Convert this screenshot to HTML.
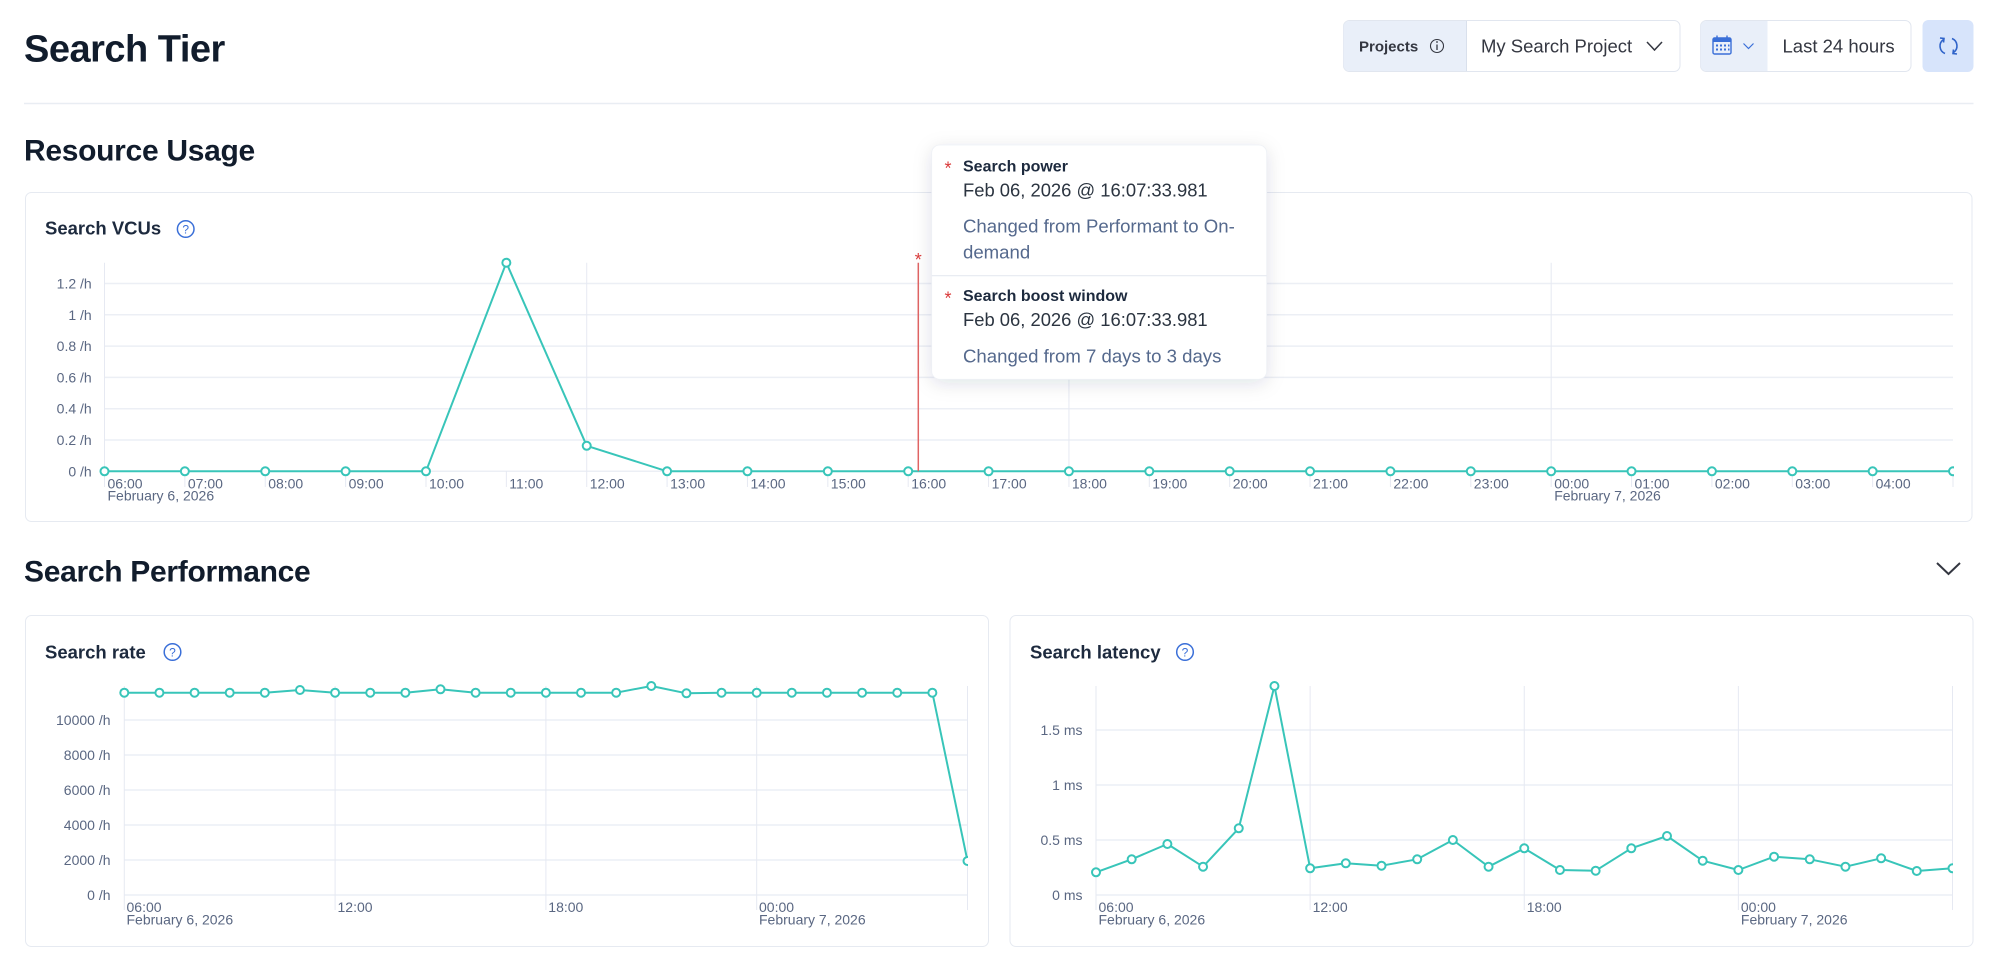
<!DOCTYPE html>
<html><head><meta charset="utf-8"><style>
html,body{margin:0;padding:0;background:#fff;width:1999px;height:961px;overflow:hidden}
svg{position:absolute;left:0;top:0}
</style></head><body>
<svg width="1999" height="961" viewBox="0 0 1999 961" font-family="Liberation Sans, Arial, sans-serif">
<defs>
<filter id="sh" x="-20%" y="-20%" width="140%" height="150%"><feDropShadow dx="0" dy="4" stdDeviation="9" flood-color="#1d2a3e" flood-opacity="0.13"/></filter>
<clipPath id="c1"><rect x="90" y="250" width="1864" height="240"/></clipPath>
<clipPath id="c2"><rect x="110" y="675" width="858" height="230"/></clipPath>
<clipPath id="c3"><rect x="1085" y="675" width="868" height="230"/></clipPath>
</defs>

<!-- Header -->
<text x="24" y="61.5" font-size="38" font-weight="700" fill="#111c2c" letter-spacing="-0.5">Search Tier</text>

<!-- Projects control -->
<rect x="1343.5" y="20.5" width="336.5" height="51" rx="6" fill="#fff" stroke="#e1e6ef"/>
<path d="M1466.5 21 H1349.5 a6 6 0 0 0 -6 6 V65 a6 6 0 0 0 6 6 H1466.5 Z" fill="#e9eff9"/>
<line x1="1466.5" y1="21" x2="1466.5" y2="71" stroke="#d9e0ec"/>
<text x="1359" y="51.5" font-size="15" font-weight="700" fill="#343741">Projects</text>
<circle cx="1437" cy="46" r="6.5" fill="none" stroke="#343741" stroke-width="1.1"/>
<line x1="1437" y1="44.5" x2="1437" y2="50" stroke="#343741" stroke-width="1.3"/>
<circle cx="1437" cy="42" r="0.9" fill="#343741"/>
<text x="1481" y="52.5" font-size="18.5" fill="#343741">My Search Project</text>
<polyline points="1647,42 1654.5,50 1662,42" fill="none" stroke="#343741" stroke-width="1.5"/>

<!-- Date control -->
<rect x="1700.5" y="20.5" width="210.5" height="51" rx="6" fill="#fff" stroke="#e1e6ef"/>
<path d="M1767.5 21 H1706.5 a6 6 0 0 0 -6 6 V65 a6 6 0 0 0 6 6 H1767.5 Z" fill="#e9eff9"/>
<rect x="1713" y="38" width="18" height="16" rx="1.5" fill="none" stroke="#3a6fd8" stroke-width="1.4"/>
<rect x="1713" y="38" width="18" height="4" fill="#3a6fd8"/>
<line x1="1717" y1="35.5" x2="1717" y2="39" stroke="#3a6fd8" stroke-width="1.4"/>
<line x1="1727" y1="35.5" x2="1727" y2="39" stroke="#3a6fd8" stroke-width="1.4"/>
<g fill="#3a6fd8"><rect x="1716" y="44.5" width="2" height="2"/><rect x="1720" y="44.5" width="2" height="2"/><rect x="1724" y="44.5" width="2" height="2"/><rect x="1728" y="44.5" width="1.5" height="2"/><rect x="1716" y="48.5" width="2" height="2"/><rect x="1720" y="48.5" width="2" height="2"/><rect x="1724" y="48.5" width="2" height="2"/><rect x="1728" y="48.5" width="1.5" height="2"/></g>
<polyline points="1743.5,43.5 1748.5,48.5 1753.5,43.5" fill="none" stroke="#3a6fd8" stroke-width="1.2"/>
<text x="1782.5" y="52.5" font-size="18.5" fill="#343741">Last 24 hours</text>

<!-- Refresh button -->
<rect x="1922.5" y="20" width="51" height="52" rx="6" fill="#d7e4fb"/>
<path d="M1943.5 39.5 A8 8 0 0 0 1945 53.5" fill="none" stroke="#2f63c9" stroke-width="1.6"/>
<path d="M1953.5 52.5 A8 8 0 0 0 1952 38.5" fill="none" stroke="#2f63c9" stroke-width="1.6"/>
<polyline points="1940,38 1944,38.5 1943.5,42.5" fill="none" stroke="#2f63c9" stroke-width="1.6"/>
<polyline points="1957,54 1953,53.5 1953.5,49.5" fill="none" stroke="#2f63c9" stroke-width="1.6"/>

<line x1="24" y1="103.5" x2="1973.5" y2="103.5" stroke="#e9edf3" stroke-width="1.5"/>

<text x="24" y="160.5" font-size="30" font-weight="700" fill="#111c2c" letter-spacing="-0.3">Resource Usage</text>

<!-- Card 1 -->
<rect x="25.5" y="192.5" width="1946.5" height="329" rx="6" fill="#fff" stroke="#e6eaf1"/>
<text x="45" y="234.3" font-size="18.5" font-weight="700" fill="#1d2a3e">Search VCUs</text>
<circle cx="185.7" cy="229" r="8.3" fill="none" stroke="#3a6fd8" stroke-width="1.5"/>
<text x="185.7" y="233.5" font-size="12" text-anchor="middle" fill="#3a6fd8">?</text>

<g stroke="#eceff5" stroke-width="1.5">
<line x1="104.5" y1="283.5" x2="1953" y2="283.5"/>
<line x1="104.5" y1="314.8" x2="1953" y2="314.8"/>
<line x1="104.5" y1="346.1" x2="1953" y2="346.1"/>
<line x1="104.5" y1="377.4" x2="1953" y2="377.4"/>
<line x1="104.5" y1="408.7" x2="1953" y2="408.7"/>
<line x1="104.5" y1="440" x2="1953" y2="440"/>
<line x1="104.5" y1="471.3" x2="1953" y2="471.3"/>
</g>
<g stroke="#e6e9f2" stroke-width="1">
<line x1="104.5" y1="262.7" x2="104.5" y2="487"/>
<line x1="586.72" y1="262.7" x2="586.72" y2="487"/>
<line x1="1068.94" y1="262.7" x2="1068.94" y2="487"/>
<line x1="1551.16" y1="262.7" x2="1551.16" y2="487"/>
<line x1="184.87" y1="471" x2="184.87" y2="487"/><line x1="265.24" y1="471" x2="265.24" y2="487"/><line x1="345.61" y1="471" x2="345.61" y2="487"/><line x1="425.98" y1="471" x2="425.98" y2="487"/><line x1="506.35" y1="471" x2="506.35" y2="487"/><line x1="667.09" y1="471" x2="667.09" y2="487"/><line x1="747.46" y1="471" x2="747.46" y2="487"/><line x1="827.83" y1="471" x2="827.83" y2="487"/><line x1="908.2" y1="471" x2="908.2" y2="487"/><line x1="988.57" y1="471" x2="988.57" y2="487"/><line x1="1149.31" y1="471" x2="1149.31" y2="487"/><line x1="1229.68" y1="471" x2="1229.68" y2="487"/><line x1="1310.05" y1="471" x2="1310.05" y2="487"/><line x1="1390.42" y1="471" x2="1390.42" y2="487"/><line x1="1470.79" y1="471" x2="1470.79" y2="487"/><line x1="1631.53" y1="471" x2="1631.53" y2="487"/><line x1="1711.9" y1="471" x2="1711.9" y2="487"/><line x1="1792.27" y1="471" x2="1792.27" y2="487"/><line x1="1872.64" y1="471" x2="1872.64" y2="487"/><line x1="1953" y1="471" x2="1953" y2="487"/>
</g>
<g font-size="14" fill="#5a6782" text-anchor="end">
<text x="91.7" y="288.5">1.2 /h</text>
<text x="91.7" y="319.8">1 /h</text>
<text x="91.7" y="351.1">0.8 /h</text>
<text x="91.7" y="382.4">0.6 /h</text>
<text x="91.7" y="413.7">0.4 /h</text>
<text x="91.7" y="445">0.2 /h</text>
<text x="91.7" y="476.3">0 /h</text>
</g>
<g font-size="14" fill="#5a6782">
<text x="107.5" y="488.3">06:00</text><text x="187.9" y="488.3">07:00</text><text x="268.2" y="488.3">08:00</text><text x="348.6" y="488.3">09:00</text><text x="429" y="488.3">10:00</text><text x="509.3" y="488.3">11:00</text><text x="589.7" y="488.3">12:00</text><text x="670.1" y="488.3">13:00</text><text x="750.5" y="488.3">14:00</text><text x="830.8" y="488.3">15:00</text><text x="911.2" y="488.3">16:00</text><text x="991.6" y="488.3">17:00</text><text x="1071.9" y="488.3">18:00</text><text x="1152.3" y="488.3">19:00</text><text x="1232.7" y="488.3">20:00</text><text x="1313" y="488.3">21:00</text><text x="1393.4" y="488.3">22:00</text><text x="1473.8" y="488.3">23:00</text><text x="1554.2" y="488.3">00:00</text><text x="1634.5" y="488.3">01:00</text><text x="1714.9" y="488.3">02:00</text><text x="1795.3" y="488.3">03:00</text><text x="1875.6" y="488.3">04:00</text>
<text x="107.5" y="500.5">February 6, 2026</text>
<text x="1554.2" y="500.5">February 7, 2026</text>
</g>

<g clip-path="url(#c1)">
<polyline fill="none" stroke="#38c5b9" stroke-width="2" stroke-linejoin="round" points="104.5,471.3 184.87,471.3 265.24,471.3 345.61,471.3 425.98,471.3 506.35,262.7 586.72,445.8 667.09,471.3 747.46,471.3 827.83,471.3 908.2,471.3 988.57,471.3 1068.94,471.3 1149.31,471.3 1229.68,471.3 1310.05,471.3 1390.42,471.3 1470.79,471.3 1551.16,471.3 1631.53,471.3 1711.9,471.3 1792.27,471.3 1872.64,471.3 1953.01,471.3"/>
<g fill="#fff" stroke="#38c5b9" stroke-width="2">
<circle cx="104.5" cy="471.3" r="4"/><circle cx="184.87" cy="471.3" r="4"/><circle cx="265.24" cy="471.3" r="4"/><circle cx="345.61" cy="471.3" r="4"/><circle cx="425.98" cy="471.3" r="4"/><circle cx="506.35" cy="262.7" r="4"/><circle cx="586.72" cy="445.8" r="4"/><circle cx="667.09" cy="471.3" r="4"/><circle cx="747.46" cy="471.3" r="4"/><circle cx="827.83" cy="471.3" r="4"/><circle cx="908.2" cy="471.3" r="4"/><circle cx="988.57" cy="471.3" r="4"/><circle cx="1068.94" cy="471.3" r="4"/><circle cx="1149.31" cy="471.3" r="4"/><circle cx="1229.68" cy="471.3" r="4"/><circle cx="1310.05" cy="471.3" r="4"/><circle cx="1390.42" cy="471.3" r="4"/><circle cx="1470.79" cy="471.3" r="4"/><circle cx="1551.16" cy="471.3" r="4"/><circle cx="1631.53" cy="471.3" r="4"/><circle cx="1711.9" cy="471.3" r="4"/><circle cx="1792.27" cy="471.3" r="4"/><circle cx="1872.64" cy="471.3" r="4"/><circle cx="1953.01" cy="471.3" r="4"/>
</g>
</g>

<!-- annotation marker -->
<line x1="918.3" y1="262.7" x2="918.3" y2="471.3" stroke="#e06464" stroke-width="1.5"/>
<text x="918.3" y="266" font-size="18" text-anchor="middle" fill="#da3b3b">*</text>

<!-- Search Performance -->
<text x="24" y="581.5" font-size="30" font-weight="700" fill="#111c2c" letter-spacing="-0.3">Search Performance</text>
<polyline points="1937,563 1948.5,574 1960,563" fill="none" stroke="#343741" stroke-width="2"/>

<!-- Card 2 -->
<rect x="25.5" y="615.5" width="963" height="331" rx="6" fill="#fff" stroke="#e6eaf1"/>
<text x="45" y="658.5" font-size="18.5" font-weight="700" fill="#1d2a3e">Search rate</text>
<circle cx="172.5" cy="652" r="8.3" fill="none" stroke="#3a6fd8" stroke-width="1.5"/>
<text x="172.5" y="656.5" font-size="12" text-anchor="middle" fill="#3a6fd8">?</text>
<g stroke="#eceff5" stroke-width="1.5">
<line x1="124.3" y1="720" x2="967.5" y2="720"/><line x1="124.3" y1="755" x2="967.5" y2="755"/><line x1="124.3" y1="790" x2="967.5" y2="790"/><line x1="124.3" y1="825" x2="967.5" y2="825"/><line x1="124.3" y1="860" x2="967.5" y2="860"/><line x1="124.3" y1="895" x2="967.5" y2="895"/>
</g>
<g stroke="#e6e9f2" stroke-width="1">
<line x1="124.3" y1="686" x2="124.3" y2="910"/><line x1="335.1" y1="686" x2="335.1" y2="910"/><line x1="545.9" y1="686" x2="545.9" y2="910"/><line x1="756.69" y1="686" x2="756.69" y2="910"/><line x1="967.5" y1="686" x2="967.5" y2="910"/>
</g>
<g font-size="14" fill="#5a6782" text-anchor="end">
<text x="110.5" y="725">10000 /h</text><text x="110.5" y="760">8000 /h</text><text x="110.5" y="795">6000 /h</text><text x="110.5" y="830">4000 /h</text><text x="110.5" y="865">2000 /h</text><text x="110.5" y="900">0 /h</text>
</g>
<g font-size="14" fill="#5a6782">
<text x="126.5" y="912">06:00</text><text x="337.5" y="912">12:00</text><text x="548.3" y="912">18:00</text><text x="759" y="912">00:00</text>
<text x="126.5" y="924.5">February 6, 2026</text><text x="759" y="924.5">February 7, 2026</text>
</g>
<g clip-path="url(#c2)">
<polyline fill="none" stroke="#38c5b9" stroke-width="2" stroke-linejoin="round" points="124.3,692.7 159.43,692.7 194.57,692.7 229.7,692.7 264.83,692.7 299.97,690 335.1,692.7 370.23,692.7 405.36,692.7 440.5,689.3 475.63,692.7 510.76,692.7 545.9,692.7 581.03,692.7 616.16,692.7 651.3,686 686.43,693.3 721.56,692.7 756.69,692.7 791.83,692.7 826.96,692.7 862.09,692.7 897.23,692.7 932.36,692.7 967.5,861"/>
<g fill="#fff" stroke="#38c5b9" stroke-width="2">
<circle cx="124.3" cy="692.7" r="4"/><circle cx="159.43" cy="692.7" r="4"/><circle cx="194.57" cy="692.7" r="4"/><circle cx="229.7" cy="692.7" r="4"/><circle cx="264.83" cy="692.7" r="4"/><circle cx="299.97" cy="690" r="4"/><circle cx="335.1" cy="692.7" r="4"/><circle cx="370.23" cy="692.7" r="4"/><circle cx="405.36" cy="692.7" r="4"/><circle cx="440.5" cy="689.3" r="4"/><circle cx="475.63" cy="692.7" r="4"/><circle cx="510.76" cy="692.7" r="4"/><circle cx="545.9" cy="692.7" r="4"/><circle cx="581.03" cy="692.7" r="4"/><circle cx="616.16" cy="692.7" r="4"/><circle cx="651.3" cy="686" r="4"/><circle cx="686.43" cy="693.3" r="4"/><circle cx="721.56" cy="692.7" r="4"/><circle cx="756.69" cy="692.7" r="4"/><circle cx="791.83" cy="692.7" r="4"/><circle cx="826.96" cy="692.7" r="4"/><circle cx="862.09" cy="692.7" r="4"/><circle cx="897.23" cy="692.7" r="4"/><circle cx="932.36" cy="692.7" r="4"/><circle cx="967.5" cy="861" r="4"/>
</g>
</g>

<!-- Card 3 -->
<rect x="1010" y="615.5" width="963" height="331" rx="6" fill="#fff" stroke="#e6eaf1"/>
<text x="1030" y="658.5" font-size="18.5" font-weight="700" fill="#1d2a3e">Search latency</text>
<circle cx="1185" cy="652" r="8.3" fill="none" stroke="#3a6fd8" stroke-width="1.5"/>
<text x="1185" y="656.5" font-size="12" text-anchor="middle" fill="#3a6fd8">?</text>
<g stroke="#eceff5" stroke-width="1.5">
<line x1="1096" y1="730" x2="1952.5" y2="730"/><line x1="1096" y1="785" x2="1952.5" y2="785"/><line x1="1096" y1="840" x2="1952.5" y2="840"/><line x1="1096" y1="895" x2="1952.5" y2="895"/>
</g>
<g stroke="#e6e9f2" stroke-width="1">
<line x1="1096" y1="686" x2="1096" y2="910"/><line x1="1310.13" y1="686" x2="1310.13" y2="910"/><line x1="1524.25" y1="686" x2="1524.25" y2="910"/><line x1="1738.38" y1="686" x2="1738.38" y2="910"/><line x1="1952.5" y1="686" x2="1952.5" y2="910"/>
</g>
<g font-size="14" fill="#5a6782" text-anchor="end">
<text x="1082.5" y="735">1.5 ms</text><text x="1082.5" y="790">1 ms</text><text x="1082.5" y="845">0.5 ms</text><text x="1082.5" y="900">0 ms</text>
</g>
<g font-size="14" fill="#5a6782">
<text x="1098.5" y="912">06:00</text><text x="1312.6" y="912">12:00</text><text x="1526.7" y="912">18:00</text><text x="1740.9" y="912">00:00</text>
<text x="1098.5" y="924.5">February 6, 2026</text><text x="1740.9" y="924.5">February 7, 2026</text>
</g>
<g clip-path="url(#c3)">
<polyline fill="none" stroke="#38c5b9" stroke-width="2" stroke-linejoin="round" points="1096,872.3 1131.69,859.3 1167.38,844 1203.06,866.7 1238.75,828.3 1274.44,686 1310.13,868.3 1345.81,863.3 1381.5,865.7 1417.19,859.3 1452.88,840 1488.56,866.7 1524.25,848.3 1559.94,870 1595.63,870.7 1631.31,848.3 1667,836 1702.69,860.7 1738.38,870 1774.06,856.7 1809.75,859.3 1845.44,866.7 1881.13,858.3 1916.81,871 1952.5,868.3"/>
<g fill="#fff" stroke="#38c5b9" stroke-width="2">
<circle cx="1096" cy="872.3" r="4"/><circle cx="1131.69" cy="859.3" r="4"/><circle cx="1167.38" cy="844" r="4"/><circle cx="1203.06" cy="866.7" r="4"/><circle cx="1238.75" cy="828.3" r="4"/><circle cx="1274.44" cy="686" r="4"/><circle cx="1310.13" cy="868.3" r="4"/><circle cx="1345.81" cy="863.3" r="4"/><circle cx="1381.5" cy="865.7" r="4"/><circle cx="1417.19" cy="859.3" r="4"/><circle cx="1452.88" cy="840" r="4"/><circle cx="1488.56" cy="866.7" r="4"/><circle cx="1524.25" cy="848.3" r="4"/><circle cx="1559.94" cy="870" r="4"/><circle cx="1595.63" cy="870.7" r="4"/><circle cx="1631.31" cy="848.3" r="4"/><circle cx="1667" cy="836" r="4"/><circle cx="1702.69" cy="860.7" r="4"/><circle cx="1738.38" cy="870" r="4"/><circle cx="1774.06" cy="856.7" r="4"/><circle cx="1809.75" cy="859.3" r="4"/><circle cx="1845.44" cy="866.7" r="4"/><circle cx="1881.13" cy="858.3" r="4"/><circle cx="1916.81" cy="871" r="4"/><circle cx="1952.5" cy="868.3" r="4"/>
</g>
</g>

<!-- Tooltip -->
<rect x="931.7" y="145" width="335" height="234.3" rx="8" fill="#fff" filter="url(#sh)"/>
<rect x="931.7" y="145" width="335" height="234.3" rx="8" fill="#fff" stroke="#eef1f6" stroke-width="0.8"/>
<text x="944.5" y="174.5" font-size="18" fill="#da3b3b">*</text>
<text x="963" y="171.5" font-size="16" font-weight="700" fill="#1d2a3e">Search power</text>
<text x="963" y="196.7" font-size="18.4" fill="#2b3440">Feb 06, 2026 @ 16:07:33.981</text>
<text x="963" y="232.7" font-size="18.6" fill="#55698d">Changed from Performant to On-</text>
<text x="963" y="258.7" font-size="18.6" fill="#55698d">demand</text>
<line x1="931.7" y1="275.7" x2="1266.7" y2="275.7" stroke="#e6eaf1" stroke-width="1.2"/>
<text x="944.5" y="304.5" font-size="18" fill="#da3b3b">*</text>
<text x="963" y="301" font-size="16" font-weight="700" fill="#1d2a3e">Search boost window</text>
<text x="963" y="326" font-size="18.4" fill="#2b3440">Feb 06, 2026 @ 16:07:33.981</text>
<text x="963" y="362.7" font-size="18.6" fill="#55698d">Changed from 7 days to 3 days</text>
</svg>
</body></html>
